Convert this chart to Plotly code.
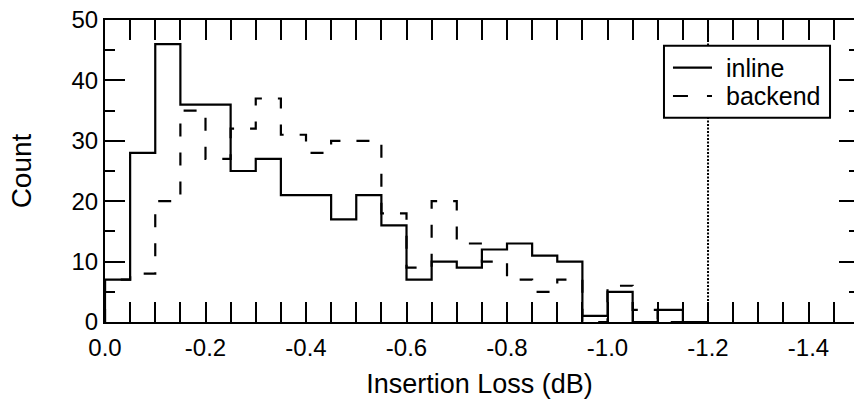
import plotly.graph_objects as go

# Bin edges of the insertion-loss histogram (dB), 0.05 dB wide
bin_edges = [0.0, -0.05, -0.10, -0.15, -0.20, -0.25, -0.30, -0.35, -0.40, -0.45,
             -0.50, -0.55, -0.60, -0.65, -0.70, -0.75, -0.80, -0.85, -0.90, -0.95,
             -1.00, -1.05, -1.10, -1.15, -1.20]

# Counts per bin
inline_counts = [7, 28, 46, 36, 36, 25, 27, 21, 21, 17, 21, 16, 7, 10, 9, 12,
                 13, 11, 10, 1, 5, 0, 2, 0]
backend_counts = [7, 8, 20, 35, 27, 32, 37, 31, 28, 30, 30, 18, 9, 20, 13, 10,
                  7, 5, 7, 0, 6, 2, 0, 0]

series_names = ["inline", "backend"]

# Specification limit marker
limit_db = -1.2

# Axis ticks
x_tick_vals = [0.0, -0.2, -0.4, -0.6, -0.8, -1.0, -1.2, -1.4]
x_tick_text = ["0.0", "-0.2", "-0.4", "-0.6", "-0.8", "-1.0", "-1.2", "-1.4"]
y_tick_vals = [0, 10, 20, 30, 40, 50]

FONT = "Liberation Sans, Arial, sans-serif"
SOLID = dict(color="black", width=2.2)
DASHED = dict(color="black", width=2.2, dash="13px,16px")
SAMPLE_DASHED = dict(color="black", width=2.2, dash="15px,19px")


def step_xy(edges, counts):
    xs = [edges[0]] + list(edges)
    ys = [0] + list(counts) + [0]
    return xs, ys


fig = go.Figure()

x_in, y_in = step_xy(bin_edges, inline_counts)
fig.add_trace(go.Scatter(
    x=x_in, y=y_in, mode="lines", name=series_names[0], showlegend=False,
    line=dict(shape="hv", **SOLID),
))

x_bk, y_bk = step_xy(bin_edges, backend_counts)
fig.add_trace(go.Scatter(
    x=x_bk, y=y_bk, mode="lines", name=series_names[1], showlegend=False,
    line=dict(shape="hv", **DASHED),
))

# carrier for the right-hand tick axis
fig.add_trace(go.Scatter(x=[None], y=[None], yaxis="y2", showlegend=False,
                         hoverinfo="skip"))

# dotted limit line
fig.add_shape(type="line", xref="x", yref="y", x0=limit_db, x1=limit_db,
              y0=0, y1=50, line=dict(color="black", width=2, dash="2px,1.5px"))

# legend box with line samples and labels (paper coordinates)
box = dict(x0=0.7463, x1=0.9680, y0=0.6765, y1=0.9149)
fig.add_shape(type="rect", xref="paper", yref="paper", **box,
              line=dict(color="black", width=2), fillcolor="white")
rows_y = [0.8421, 0.7483]
sample_x = (0.7583, 0.8104)
for name, style, yy in zip(series_names, [SOLID, SAMPLE_DASHED], rows_y):
    fig.add_shape(type="line", xref="paper", yref="paper",
                  x0=sample_x[0], x1=sample_x[1], y0=yy, y1=yy, line=style)
    fig.add_annotation(xref="paper", yref="paper", x=0.8264, y=yy,
                       xanchor="left", yanchor="middle", showarrow=False,
                       text=name, font=dict(family=FONT, size=25, color="black"))

fig.update_layout(
    width=854, height=399,
    margin=dict(l=105, r=0, t=20, b=77),
    paper_bgcolor="white", plot_bgcolor="white",
    font=dict(family=FONT, color="black", size=24),
    showlegend=False,
    xaxis=dict(
        range=[0, -1.4905], autorange=False,
        tickmode="array", tickvals=x_tick_vals, ticktext=x_tick_text,
        ticks="inside", ticklen=20, tickwidth=2, tickcolor="black",
        minor=dict(tickmode="linear", tick0=0, dtick=0.05, ticks="inside",
                   ticklen=10, tickwidth=2, tickcolor="black"),
        showline=True, linewidth=2, linecolor="black", mirror="allticks",
        showgrid=False, zeroline=False,
        tickfont=dict(size=24), ticklabelstandoff=3,
        title=dict(text="Insertion Loss (dB)", font=dict(size=27), standoff=19),
    ),
    yaxis=dict(
        range=[0, 50], autorange=False,
        tickmode="array", tickvals=y_tick_vals,
        ticks="inside", ticklen=20, tickwidth=2, tickcolor="black",
        minor=dict(tickmode="linear", tick0=0, dtick=5, ticks="inside",
                   ticklen=10, tickwidth=2, tickcolor="black"),
        showline=True, linewidth=2, linecolor="black", mirror=False,
        showgrid=False, zeroline=False,
        tickfont=dict(size=24),
        title=dict(text="Count", font=dict(size=28), standoff=32),
    ),
    yaxis2=dict(
        overlaying="y", side="right", range=[0, 50], autorange=False,
        tickmode="array", tickvals=y_tick_vals,
        ticks="inside", ticklen=15, tickwidth=2, tickcolor="black",
        minor=dict(tickmode="linear", tick0=0, dtick=5, ticks="inside",
                   ticklen=5, tickwidth=2, tickcolor="black"),
        showline=False, showgrid=False, zeroline=False, showticklabels=False,
    ),
)

fig.write_html("out.html")
